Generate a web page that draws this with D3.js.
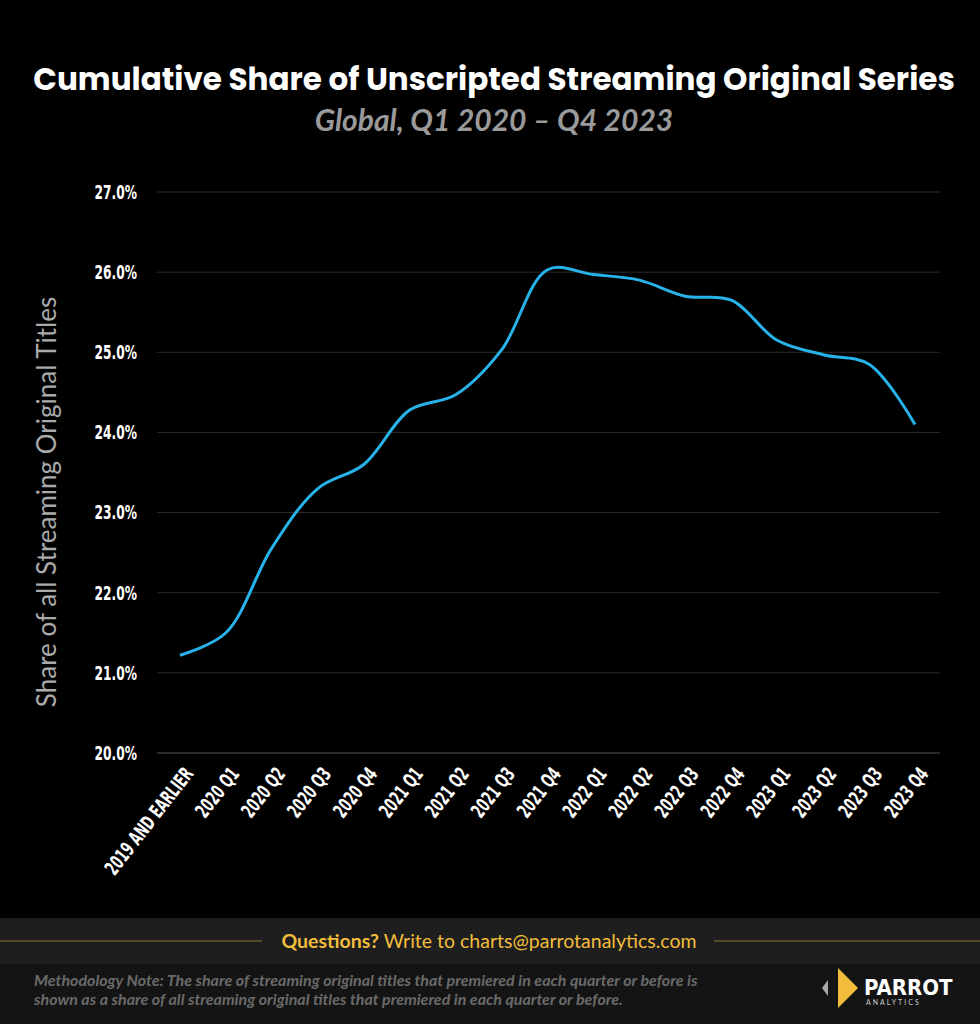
<!DOCTYPE html>
<html><head><meta charset="utf-8">
<script src="https://cdn.jsdelivr.net/npm/d3@7"></script>
<style>body{margin:0;background:#000}svg{display:block}</style>
</head><body>
<script>
const categories = ['2019 and earlier','2020 Q1','2020 Q2','2020 Q3','2020 Q4','2021 Q1','2021 Q2','2021 Q3','2021 Q4','2022 Q1','2022 Q2','2022 Q3','2022 Q4','2023 Q1','2023 Q2','2023 Q3','2023 Q4'];
const shares = [21.22,21.5,22.56,23.3,23.6,24.28,24.47,25.03,26.03,25.97,25.9,25.7,25.65,25.15,24.97,24.85,24.1];
const yTicks = [20,21,22,23,24,25,26,27];

const W = 980, H = 1024;
const svg = d3.select('body').append('svg').attr('width', W).attr('height', H);
svg.append('rect').attr('width', W).attr('height', H).attr('fill', '#000');

const condensed = "'DejaVu Sans Condensed','DejaVu Sans',sans-serif";

svg.append('text').attr('x', 494).attr('y', 90).attr('text-anchor', 'middle')
  .attr('fill', '#fff').attr('font-family', 'Poppins, Lato, sans-serif').attr('font-weight', 700).attr('font-size', 31)
  .text('Cumulative Share of Unscripted Streaming Original Series');
svg.append('text').attr('x', 494).attr('y', 131).attr('text-anchor', 'middle')
  .attr('fill', '#9a9a9a').attr('font-family', 'Lato, sans-serif').attr('font-style', 'italic').attr('font-weight', 700).attr('font-size', 30)
  .text('Global, Q1 2020 – Q4 2023');

const x = d3.scalePoint().domain(categories).range([180, 915]);
const y = d3.scaleLinear().domain([20, 27]).range([753, 192]);

const grid = svg.append('g');
grid.selectAll('line').data(yTicks).join('line')
  .attr('x1', 157).attr('x2', 940).attr('y1', d => y(d)).attr('y2', d => y(d))
  .attr('stroke', d => d === 20 ? '#555' : '#2a2a2a').attr('stroke-width', 1);

const yAxis = svg.append('g').attr('transform', 'translate(137,0)')
  .call(d3.axisLeft(y).tickValues(yTicks).tickFormat(d => d.toFixed(1) + '%').tickSize(0));
yAxis.select('.domain').remove();
yAxis.selectAll('text').attr('fill', '#fff').attr('font-family', condensed).attr('font-weight', 700).attr('font-size', 20)
  .attr('text-anchor', 'end').attr('x', 0).attr('transform', 'scale(0.68,1)');

const xAxis = svg.append('g').attr('transform', 'translate(0,760)')
  .call(d3.axisBottom(x).tickSize(0).tickFormat(d => d.toUpperCase()));
xAxis.select('.domain').remove();
xAxis.selectAll('text').attr('fill', '#fff').attr('font-family', condensed).attr('font-weight', 700).attr('font-size', 20)
  .attr('text-anchor', 'end').attr('dy', '0.35em').attr('transform', 'translate(6,8) rotate(-52) scale(0.68,1)');

svg.append('text').attr('transform', 'translate(56,502) rotate(-90)').attr('text-anchor', 'middle')
  .attr('fill', '#aaa').attr('font-family', 'Lato, sans-serif').attr('font-size', 26)
  .text('Share of all Streaming Original Titles');

svg.append('path').datum(shares)
  .attr('d', d3.line().x((d, i) => x(categories[i])).y(d => y(d)).curve(d3.curveCatmullRom.alpha(0.5)))
  .attr('fill', 'none').attr('stroke', '#27b3ea').attr('stroke-width', 3);

// footer
svg.append('rect').attr('y', 918).attr('width', W).attr('height', 46).attr('fill', '#1e1e1e');
svg.append('rect').attr('y', 964).attr('width', W).attr('height', 60).attr('fill', '#141414');
svg.append('line').attr('x1', 0).attr('x2', 262).attr('y1', 941).attr('y2', 941).attr('stroke', '#8a7030');
svg.append('line').attr('x1', 714).attr('x2', 980).attr('y1', 941).attr('y2', 941).attr('stroke', '#8a7030');
const q = svg.append('text').attr('x', 489).attr('y', 948).attr('text-anchor', 'middle')
  .attr('font-family', 'Lato, sans-serif').attr('font-size', 19.5).attr('fill', '#f2bd3c');
q.append('tspan').attr('font-weight', 700).text('Questions?');
q.append('tspan').text(' Write to charts@parrotanalytics.com');
const note = ['Methodology Note: The share of streaming original titles that premiered in each quarter or before is',
  'shown as a share of all streaming original titles that premiered in each quarter or before.'];
svg.append('g').selectAll('text').data(note).join('text')
  .attr('x', 34).attr('y', (d, i) => 986 + i * 19)
  .attr('font-family', 'Lato, sans-serif').attr('font-style', 'italic').attr('font-weight', 700).attr('font-size', 16)
  .attr('fill', '#6a6a6a').text(d => d);
svg.append('path').attr('d', 'M838,968 L858,988 L838,1008 Z').attr('fill', '#f2bd3c');
svg.append('path').attr('d', 'M828,980 L822,988 L828,996 Z').attr('fill', '#aaa');
svg.append('text').attr('x', 864).attr('y', 995).attr('fill', '#fff').attr('font-family', condensed).attr('font-weight', 700).attr('font-size', 22).text('PARROT');
svg.append('text').attr('x', 866).attr('y', 1005).attr('fill', '#ccc').attr('font-family', 'Lato, sans-serif').attr('font-size', 7).attr('letter-spacing', 2).text('ANALYTICS');
</script>
</body></html>
